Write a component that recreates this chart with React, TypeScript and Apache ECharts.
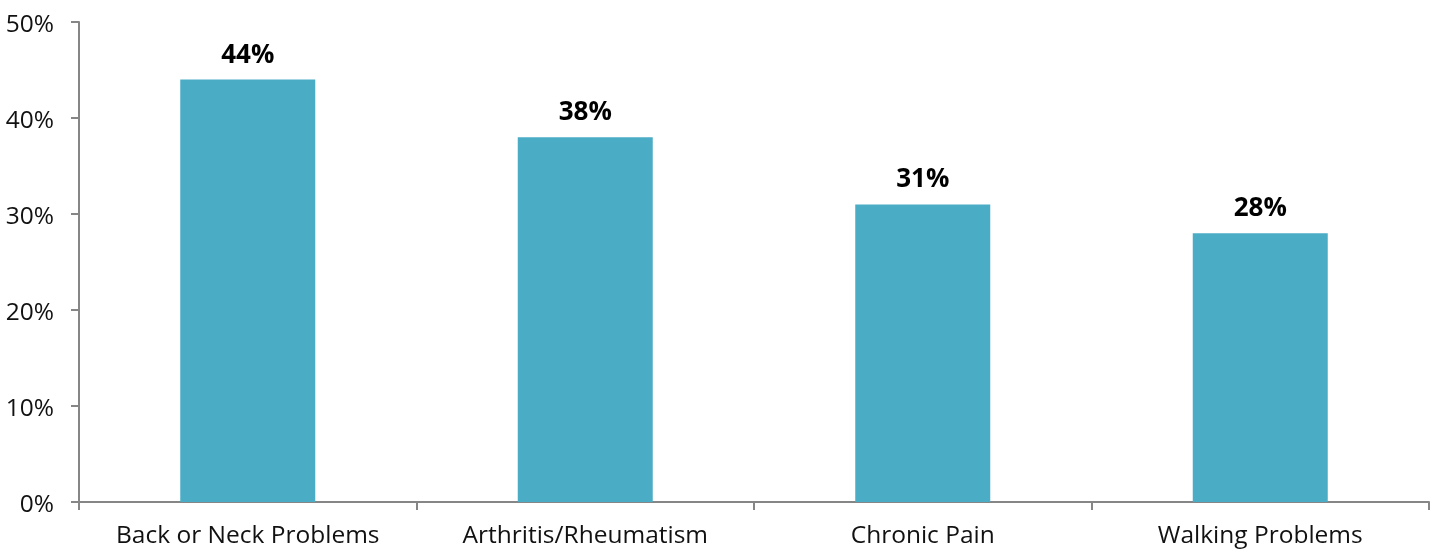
import React, { useEffect, useRef } from "react";
import * as echarts from "echarts";

const categories = ["Back or Neck Problems", "Arthritis/Rheumatism", "Chronic Pain", "Walking Problems"];
const values = [44, 38, 31, 28];
const yTicks = [0, 10, 20, 30, 40, 50];

export default function App() {
  const ref = useRef<HTMLDivElement>(null);
  useEffect(() => {
    if (!ref.current) return;
    const chart = echarts.init(ref.current, null, { renderer: "svg" });
    const axisColor = "#868686";
    chart.setOption({
      animation: false,
      grid: { left: 79, right: 3, top: 22, bottom: 50, containLabel: false },
      xAxis: {
        type: "category",
        data: categories,
        axisLine: { lineStyle: { color: axisColor, width: 2 } },
        axisTick: { show: true, length: 8, alignWithLabel: false, lineStyle: { color: axisColor, width: 2 } },
        axisLabel: { color: "#111", fontSize: 24.5, fontFamily: "Open Sans", margin: 19, interval: 0 },
      },
      yAxis: {
        type: "value",
        min: yTicks[0],
        max: yTicks[yTicks.length - 1],
        interval: 10,
        splitLine: { show: false },
        axisLine: { show: true, lineStyle: { color: axisColor, width: 2 } },
        axisTick: { show: true, length: 8, lineStyle: { color: axisColor, width: 2 } },
        axisLabel: { color: "#111", fontSize: 24.5, fontFamily: "Open Sans", margin: 25, formatter: "{value}%" },
      },
      series: [
        {
          type: "bar",
          data: values,
          barWidth: "40%",
          itemStyle: { color: "#4BACC6" },
          label: {
            show: true,
            position: "top",
            distance: 14,
            formatter: "{c}%",
            color: "#000",
            fontSize: 26,
            fontWeight: "bold",
            fontFamily: "Open Sans",
          },
        },
      ],
    });
    return () => chart.dispose();
  }, []);
  return <div ref={ref} style={{ position: "fixed", left: 0, top: 0, width: 1432, height: 552 }} />;
}
